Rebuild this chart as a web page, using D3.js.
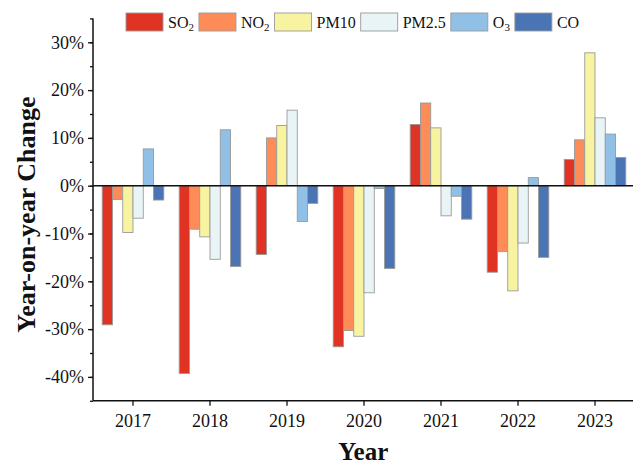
<!DOCTYPE html>
<html>
<head>
<meta charset="utf-8">
<script src="https://cdn.jsdelivr.net/npm/d3@7"></script>
<style>
  html, body { margin: 0; padding: 0; background: #fff; }
  svg { display: block; }
  text { font-family: "Liberation Serif", "Times New Roman", serif; fill: #111; }
</style>
</head>
<body>
<svg id="chart" width="633" height="466"></svg>
<script>
// Year-on-year change (%) of each pollutant
const years = ["2017", "2018", "2019", "2020", "2021", "2022", "2023"];
const pollutants = ["SO2", "NO2", "PM10", "PM2.5", "O3", "CO"];
const so2  = [-29.1, -39.3, -14.4, -33.7, 12.8, -18.1,  5.5];
const no2  = [ -2.9,  -9.1,  10.0, -30.3, 17.3, -13.8,  9.6];
const pm10 = [ -9.8, -10.7,  12.6, -31.5, 12.1, -22.0, 27.8];
const pm25 = [ -6.8, -15.4,  15.8, -22.4, -6.3, -12.0, 14.2];
const o3   = [  7.7,  11.7,  -7.5,  -0.6, -2.2,   1.7, 10.8];
const co   = [ -3.0, -16.9,  -3.7, -17.3, -7.0, -15.0,  5.9];
const yTicks = [-40, -30, -20, -10, 0, 10, 20, 30];
const seriesValues = [so2, no2, pm10, pm25, o3, co];
const colors = ["#e03324", "#fd8c58", "#f8f3a1", "#e9f4f7", "#90c0e5", "#4b74b5"];

const svg = d3.select("#chart");
const plotLeft = 93, plotRight = 633.5, plotTop = 18.4, plotBottom = 400.8;

const x = d3.scaleBand().domain(years).range([plotLeft + 1.5, plotRight])
  .paddingInner(0.2).paddingOuter(0.1);
const xs = d3.scaleBand().domain(pollutants).range([0, x.bandwidth()]);
const y = d3.scaleLinear().domain([-45, 35]).range([plotBottom, plotTop]);
const color = d3.scaleOrdinal().domain(pollutants).range(colors);

const rows = years.map((yr, i) => ({
  year: yr,
  vals: pollutants.map((p, k) => ({ key: p, value: seriesValues[k][i] }))
}));

// bars
const groups = svg.append("g").selectAll("g").data(rows).join("g")
  .attr("transform", d => `translate(${x(d.year)},0)`);
groups.selectAll("rect").data(d => d.vals).join("rect")
  .attr("x", d => xs(d.key))
  .attr("width", xs.bandwidth())
  .attr("y", d => y(Math.max(0, d.value)))
  .attr("height", d => Math.abs(y(d.value) - y(0)))
  .attr("fill", d => color(d.key))
  .attr("stroke", "#9a9a9a")
  .attr("stroke-width", 0.9);

// zero line
svg.append("line")
  .attr("x1", plotLeft).attr("x2", plotRight)
  .attr("y1", y(0)).attr("y2", y(0))
  .attr("stroke", "#111").attr("stroke-width", 1.5);

// y axis: minor ticks every 5%, labelled ticks every 10%
const yMinor = d3.axisLeft(y).tickValues(d3.range(-45, 36, 5)).tickSize(3).tickFormat("");
svg.append("g").attr("transform", `translate(${plotLeft},0)`).call(yMinor)
  .call(g => g.select(".domain").remove())
  .call(g => g.selectAll("line").attr("stroke", "#111").attr("stroke-width", 1.3));
const yAxis = d3.axisLeft(y).tickValues(yTicks).tickSize(5).tickPadding(4)
  .tickFormat(d => d + "%");
svg.append("g").attr("transform", `translate(${plotLeft},0)`).call(yAxis)
  .call(g => g.select(".domain").attr("d", `M0,${plotTop}V${plotBottom}`)
    .attr("stroke", "#111").attr("stroke-width", 1.5))
  .call(g => g.selectAll("line").attr("stroke", "#111").attr("stroke-width", 1.3))
  .call(g => g.selectAll("text").attr("font-size", 18)
    .attr("font-family", "Liberation Serif, serif").attr("fill", "#111"));

// x axis
const xAxis = d3.axisBottom(x).tickSize(5).tickPadding(8).tickSizeOuter(0);
svg.append("g").attr("transform", `translate(0,${plotBottom})`).call(xAxis)
  .call(g => g.select(".domain").attr("d", `M${plotLeft},0H${plotRight}`)
    .attr("stroke", "#111").attr("stroke-width", 1.5))
  .call(g => g.selectAll("line").attr("stroke", "#111").attr("stroke-width", 1.3))
  .call(g => g.selectAll("text").attr("font-size", 18)
    .attr("font-family", "Liberation Serif, serif").attr("fill", "#111"));

// axis titles
svg.append("text")
  .attr("x", (plotLeft + plotRight) / 2).attr("y", 460)
  .attr("text-anchor", "middle")
  .attr("font-size", 25).attr("font-weight", "bold")
  .text("Year");
svg.append("text")
  .attr("transform", `translate(35,${(plotTop + plotBottom) / 2 + 5}) rotate(-90)`)
  .attr("text-anchor", "middle")
  .attr("font-size", 26).attr("font-weight", "bold")
  .text("Year-on-year Change");

// legend with subscripted chemical formulas
const legendLabels = [
  ["SO", "2"], ["NO", "2"], ["PM10", ""], ["PM2.5", ""], ["O", "3"], ["CO", ""]
];
const legend = svg.append("g");
let lx = 126;
pollutants.forEach((p, i) => {
  legend.append("rect")
    .attr("x", lx).attr("y", 13).attr("width", 37).attr("height", 18)
    .attr("fill", color(p)).attr("stroke", "#9a9a9a").attr("stroke-width", 0.9);
  const t = legend.append("text")
    .attr("x", lx + 42).attr("y", 28).attr("font-size", 16);
  t.append("tspan").text(legendLabels[i][0]);
  if (legendLabels[i][1]) {
    t.append("tspan").attr("font-size", 11).attr("dy", 3).text(legendLabels[i][1]);
  }
  lx += 42 + t.node().getComputedTextLength() + 5;
});
</script>
</body>
</html>
